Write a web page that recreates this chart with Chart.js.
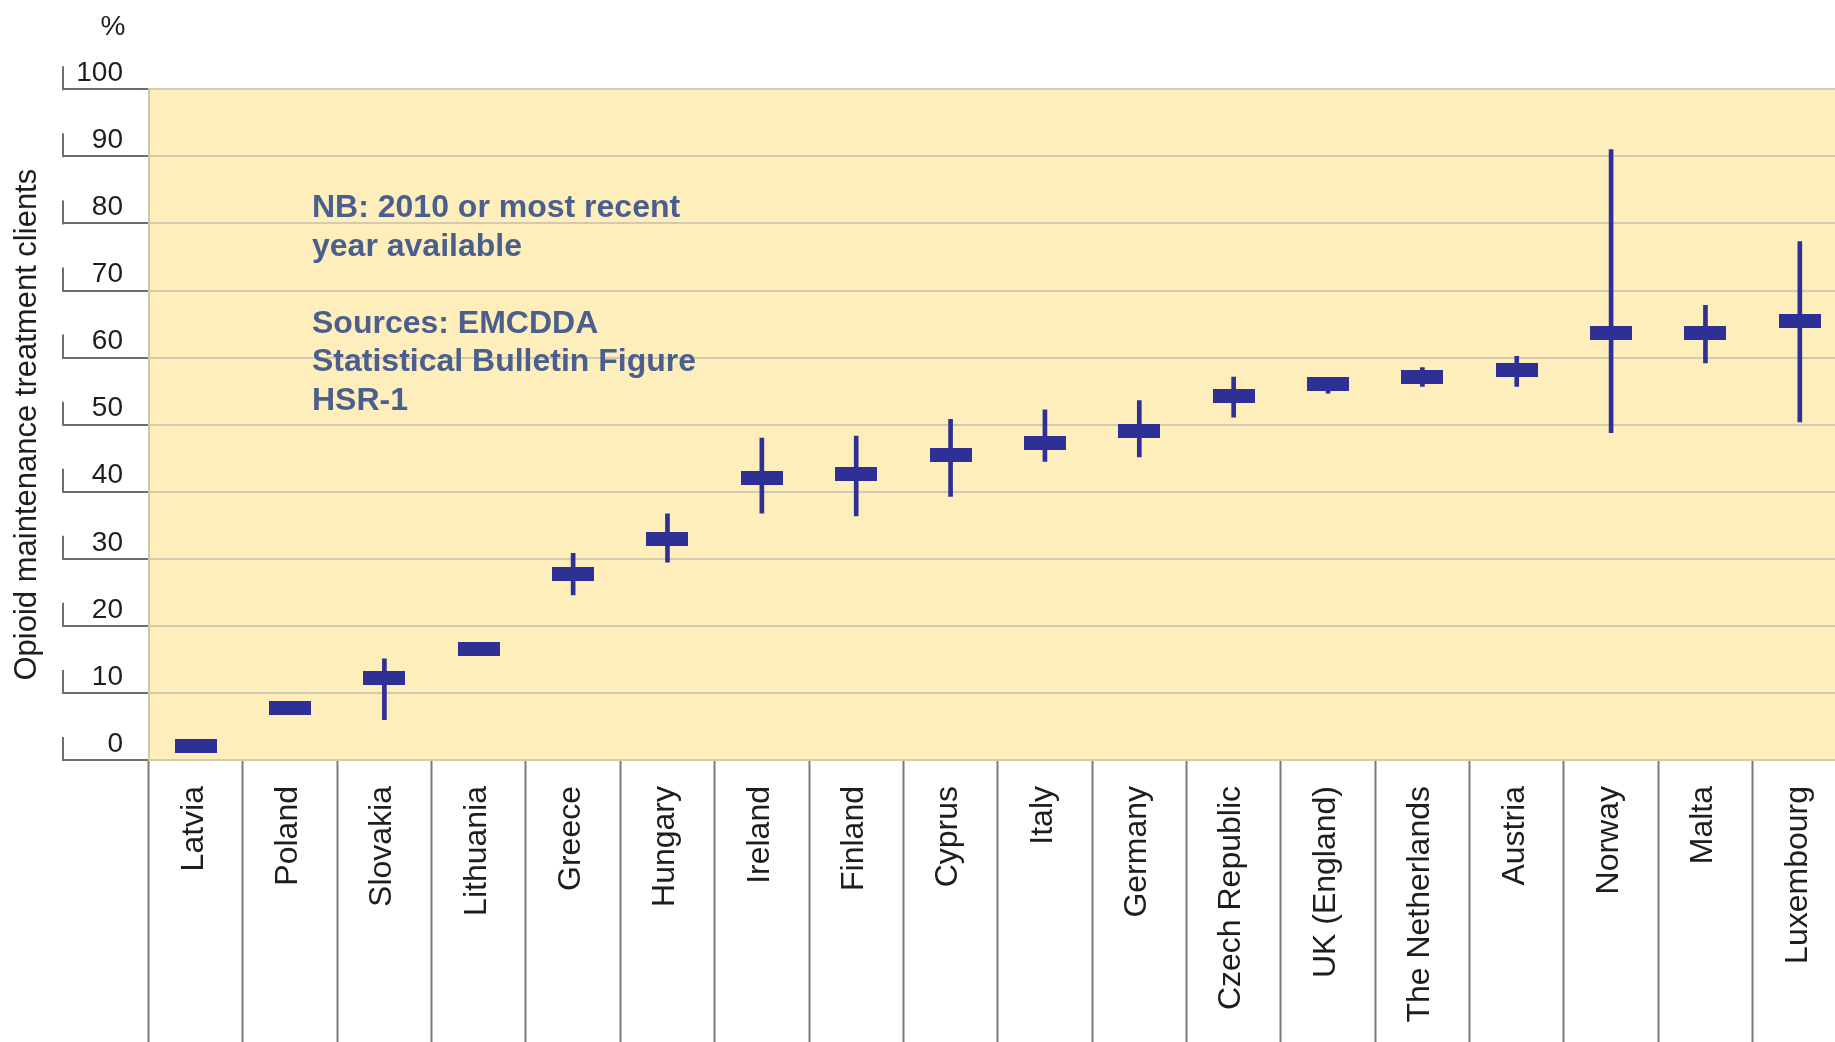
<!DOCTYPE html>
<html>
<head>
<meta charset="utf-8">
<script src="https://cdn.jsdelivr.net/npm/chart.js@4.4.1/dist/chart.umd.min.js"></script>
<style>
  html, body { margin: 0; padding: 0; overflow: hidden; background: #fff; }
  canvas { display: block; }
</style>
</head>
<body>
<canvas id="chart" width="1853" height="1042"></canvas>
<script>
// ---- data ----
const countries = ["Latvia", "Poland", "Slovakia", "Lithuania", "Greece", "Hungary", "Ireland",
  "Finland", "Cyprus", "Italy", "Germany", "Czech Republic", "UK (England)", "The Netherlands",
  "Austria", "Norway", "Malta", "Luxembourg"];
const estimate = [2.1, 7.7, 12.3, 16.5, 27.7, 32.9, 42.1, 42.7, 45.5, 47.3, 49.1, 54.2, 56.0, 57.1, 58.2, 63.7, 63.7, 65.5];
const lowBound = [null, null, 6.0, null, 24.6, 29.5, 36.8, 36.4, 39.3, 44.5, 45.2, 51.1, 54.7, 55.7, 55.7, 48.8, 59.2, 50.4];
const highBound = [null, null, 15.1, null, 30.8, 36.7, 48.0, 48.3, 50.8, 52.2, 53.6, 57.1, 56.9, 58.5, 60.2, 91.0, 67.8, 77.3];
const yTicks = [0, 10, 20, 30, 40, 50, 60, 70, 80, 90, 100];
const noteLines = ["NB: 2010 or most recent", "year available", "", "Sources: EMCDDA", "Statistical Bulletin Figure", "HSR-1"];

const BLUE = "#2e3096";
const FONT = '"Liberation Sans", Arial, Helvetica, sans-serif';

// marker image used as point style (the thick horizontal dash)
const marker = document.createElement("canvas");
marker.width = 42;
marker.height = 14;
const mctx = marker.getContext("2d");
mctx.fillStyle = BLUE;
mctx.fillRect(0, 0, 42, 14);

const ranges = lowBound.map((lo, i) => (lo == null ? null : [lo, highBound[i]]));

/* background, notes, L-shaped tick marks, % label */
const paper = {
  id: "paper",
  beforeDraw(chart) {
    const { ctx, chartArea: a } = chart;
    ctx.save();
    ctx.fillStyle = "#fff";
    ctx.fillRect(0, 0, chart.width, chart.height);
    ctx.fillStyle = "#feeebb";
    ctx.fillRect(a.left, a.top, a.right - a.left, a.bottom - a.top);
    ctx.restore();
  },
  beforeDatasetsDraw(chart) {
    const { ctx } = chart;
    ctx.save();
    ctx.fillStyle = "#4a5f8e";
    ctx.font = "bold 32px " + FONT;
    ctx.textBaseline = "alphabetic";
    noteLines.forEach((t, i) => {
      if (t) ctx.fillText(t, 312, 217 + i * 38.6);
    });
    ctx.restore();
  },
  afterDraw(chart) {
    const { ctx } = chart;
    const y = chart.scales.y;
    ctx.save();
    ctx.strokeStyle = "#6e6e6e";
    ctx.lineWidth = 2;
    y.ticks.forEach((t, i) => {
      const py = y.getPixelForTick(i);
      ctx.beginPath();
      ctx.moveTo(63, py + 1);
      ctx.lineTo(63, py - 23);
      ctx.stroke();
    });
    ctx.fillStyle = "#1e1e1e";
    ctx.font = "28px " + FONT;
    ctx.textAlign = "center";
    ctx.textBaseline = "middle";
    ctx.fillText("%", 113, 27);
    ctx.restore();
  }
};

new Chart(document.getElementById("chart"), {
  type: "bar",
  data: {
    labels: countries,
    datasets: [
      {
        type: "line",
        label: "Estimate",
        data: estimate,
        showLine: false,
        pointStyle: marker,
        pointRadius: 5,
        order: 0
      },
      {
        label: "Range",
        data: ranges,
        backgroundColor: BLUE,
        barThickness: 4,
        grouped: false,
        order: 1
      }
    ]
  },
  options: {
    responsive: false,
    animation: false,
    layout: { padding: { top: 89.3, left: 0, right: 0, bottom: 0 } },
    plugins: {
      legend: { display: false },
      tooltip: { enabled: false }
    },
    scales: {
      x: {
        offset: true,
        grid: {
          offset: true,
          drawOnChartArea: false,
          drawTicks: true,
          tickLength: 282,
          tickColor: "#7a7a7a",
          tickWidth: 2
        },
        border: { display: false },
        ticks: {
          autoSkip: false,
          minRotation: 90,
          maxRotation: 90,
          padding: -256,
          labelOffset: -2,
          color: "#1e1e1e",
          font: { family: FONT, size: 32 }
        },
        afterFit: s => { s.height = 282; }
      },
      y: {
        min: 0,
        max: 100,
        afterBuildTicks: s => { s.ticks = yTicks.map(v => ({ value: v })); },
        grid: {
          color: "#d3cab0",
          lineWidth: 2,
          tickLength: 86,
          tickColor: "#6e6e6e",
          tickWidth: 2
        },
        border: { color: "#cfc6ad", width: 2 },
        ticks: {
          padding: -60.5,
          labelOffset: -16,
          color: "#1e1e1e",
          font: { family: FONT, size: 28 }
        },
        title: {
          display: true,
          text: "Opioid maintenance treatment clients",
          color: "#1e1e1e",
          font: { family: FONT, size: 31 },
          padding: { top: 9, bottom: 0 }
        },
        afterFit: s => { s.width = 148.5; }
      }
    }
  },
  plugins: [paper]
});
</script>
</body>
</html>
